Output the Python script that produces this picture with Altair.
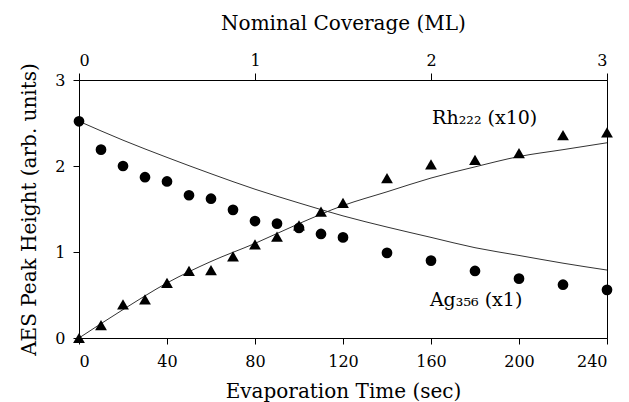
import altair as alt
import pandas as pd

# Measured points
time_pts = [0, 10, 20, 30, 40, 50, 60, 70, 80, 90, 100, 110, 120, 140, 160, 180, 200, 220, 240]
ag_pts = [2.52, 2.19, 2.00, 1.87, 1.82, 1.66, 1.62, 1.49, 1.36, 1.33, 1.28, 1.21, 1.17,
          0.99, 0.90, 0.78, 0.69, 0.62, 0.56]
rh_pts = [0.0, 0.15, 0.39, 0.45, 0.64, 0.78, 0.79, 0.95, 1.09, 1.18, 1.31, 1.47, 1.57,
          1.86, 2.02, 2.07, 2.15, 2.36, 2.39]

# Fitted curves
fit_time = [0, 20, 40, 60, 80, 100, 120, 140, 160, 180, 200, 220, 240]
ag_fit = [2.52, 2.30, 2.10, 1.91, 1.73, 1.57, 1.42, 1.29, 1.17, 1.05, 0.96, 0.87, 0.79]
rh_fit = [0.0, 0.33, 0.64, 0.89, 1.10, 1.33, 1.54, 1.70, 1.86, 1.99, 2.11, 2.19, 2.27]

# Axis ticks
time_ticks = [0, 40, 80, 120, 160, 200, 240]
cov_ticks = [0, 1, 2, 3]
y_ticks = [0, 1, 2, 3]

# Annotations
ann_text = ["Rh\u2082\u2082\u2082 (x10)", "Ag\u2083\u2085\u2086 (x1)"]
ann_t = [160.5, 159.5]
ann_v = [2.56, 0.44]

FONT = "DejaVu Serif"

pts = pd.DataFrame({"t": time_pts, "ag": ag_pts, "rh": rh_pts})
fit = pd.DataFrame({"t": fit_time, "ag": ag_fit, "rh": rh_fit})
ann = pd.DataFrame({"t": ann_t, "v": ann_v, "label": ann_text})
cov = pd.DataFrame({"cov": cov_ticks, "v": [0] * len(cov_ticks)})

xscale = alt.Scale(domain=[0, 240], nice=False, zero=False)
yscale = alt.Scale(domain=[0, 3], nice=False)

xaxis = alt.Axis(values=time_ticks, title="Evaporation Time (sec)", grid=False,
                 tickSize=6, labelPadding=9, titlePadding=12, format="d")
yaxis = alt.Axis(values=y_ticks, title="AES Peak Height (arb. units)", grid=False,
                 tickSize=6, labelPadding=8, titlePadding=15, format="d")

ag_line = alt.Chart(fit).mark_line(color="#333333", strokeWidth=1,
                                   interpolate="monotone").encode(
    x=alt.X("t:Q", scale=xscale, axis=xaxis),
    y=alt.Y("ag:Q", scale=yscale, axis=yaxis),
)
rh_line = alt.Chart(fit).mark_line(color="#333333", strokeWidth=1,
                                   interpolate="monotone").encode(
    x=alt.X("t:Q", scale=xscale),
    y=alt.Y("rh:Q", scale=yscale),
)
ag_mark = alt.Chart(pts).mark_point(shape="circle", filled=True, color="black",
                                    size=115, opacity=1).encode(
    x=alt.X("t:Q", scale=xscale),
    y=alt.Y("ag:Q", scale=yscale),
)
rh_mark = alt.Chart(pts).mark_point(shape="triangle-up", filled=True, color="black",
                                    size=140, opacity=1).encode(
    x=alt.X("t:Q", scale=xscale),
    y=alt.Y("rh:Q", scale=yscale),
)
labels = alt.Chart(ann).mark_text(align="left", baseline="middle", font=FONT,
                                  fontSize=19, color="black").encode(
    x=alt.X("t:Q", scale=xscale),
    y=alt.Y("v:Q", scale=yscale),
    text="label:N",
)

base = alt.layer(ag_line, rh_line, ag_mark, rh_mark, labels)

top = alt.Chart(cov).mark_point(opacity=0).encode(
    x=alt.X("cov:Q", scale=alt.Scale(domain=[0, 3], nice=False),
            axis=alt.Axis(orient="top", values=cov_ticks, title="Nominal Coverage (ML)",
                          grid=False, tickSize=7, labelPadding=5, titlePadding=19,
                          format="d")),
    y=alt.Y("v:Q", scale=yscale),
)

chart = alt.layer(base, top).resolve_scale(x="independent").properties(
    width=528, height=258,
    autosize=alt.AutoSizeParams(type="none"),
    padding={"left": 79, "top": 80, "right": 22, "bottom": 64},
    background="white",
).configure_view(stroke="black", strokeWidth=1).configure_axis(
    domainColor="black", tickColor="black", labelColor="black", titleColor="black",
    labelFont=FONT, titleFont=FONT, labelFontSize=16, titleFontSize=20,
    titleFontWeight="normal", domainWidth=1, tickWidth=1,
)

chart.save("out.html", embed_options={"renderer": "svg", "actions": False})
